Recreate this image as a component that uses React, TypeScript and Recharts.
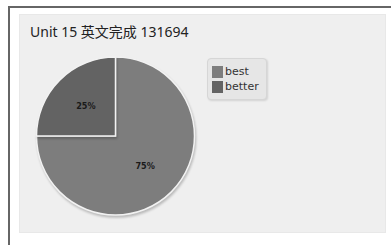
import { Cell, Pie, PieChart } from "recharts";

const categories = ["best", "better"];
const shares = [75, 25];
const sliceColors = ["#7d7d7d", "#636363"];
const chartTitle = "Unit 15 英文完成 131694";

const data = categories.map((name, i) => ({ name, value: shares[i] }));

const RAD = Math.PI / 180;

function SliceLabel(props: any) {
  const { cx, cy, midAngle, outerRadius, value } = props;
  const r = outerRadius * 0.53;
  const x = cx + r * Math.cos(-midAngle * RAD);
  const y = cy + r * Math.sin(-midAngle * RAD);
  return (
    <text
      x={x}
      y={y}
      textAnchor="middle"
      dominantBaseline="central"
      fontSize={9}
      fontWeight={700}
      fill="#1a1a1a"
      style={{ fontFamily: "'DejaVu Sans Condensed', 'DejaVu Sans', sans-serif" }}
    >
      {`${value}%`}
    </text>
  );
}

function LegendBox() {
  return (
    <div
      style={{
        position: "absolute",
        left: 207,
        top: 58,
        width: 60,
        height: 42,
        boxSizing: "border-box",
        background: "#e6e6e6",
        border: "1px solid #d6d6d6",
        borderRadius: 4,
        padding: "5px 0 0 4px",
        fontFamily: "'DejaVu Sans', sans-serif",
        fontSize: 11,
        color: "#333",
        lineHeight: "15px",
        boxShadow: "1px 1px 2px rgba(0,0,0,0.12)",
      }}
    >
      {categories.map((name, i) => (
        <div key={name} style={{ display: "flex", alignItems: "center" }}>
          <span
            style={{
              display: "inline-block",
              width: 11,
              height: 12,
              background: sliceColors[i],
              marginRight: 2,
            }}
          />
          {name}
        </div>
      ))}
    </div>
  );
}

export default function App() {
  return (
    <div
      style={{
        position: "absolute",
        left: 0,
        top: 0,
        width: 391,
        height: 245,
        background: "#fff",
        overflow: "hidden",
      }}
    >
      {/* outer frame */}
      <div
        style={{
          position: "absolute",
          left: 8,
          top: 6,
          width: 400,
          height: 260,
          borderLeft: "2px solid #666",
          borderTop: "2px solid #666",
        }}
      />
      {/* chart panel */}
      <div
        style={{
          position: "absolute",
          left: 19,
          top: 14,
          width: 367,
          height: 219,
          background: "#efefef",
          border: "1px solid #e8e8e8",
          boxSizing: "border-box",
        }}
      />
      <div
        style={{
          position: "absolute",
          left: 30,
          top: 23,
          fontFamily: "'Noto Sans', 'Noto Sans CJK SC', sans-serif",
          fontSize: 14,
          color: "#222",
          whiteSpace: "nowrap",
          lineHeight: "18px",
        }}
      >
        {chartTitle}
      </div>
      <div style={{ position: "absolute", left: 0, top: 0 }}>
        <PieChart width={391} height={245} margin={{ top: 0, right: 0, bottom: 0, left: 0 }}>
          <Pie
            data={data}
            dataKey="value"
            nameKey="name"
            cx={115.5}
            cy={136}
            outerRadius={79}
            startAngle={90}
            endAngle={-270}
            stroke="#f2f2f2"
            strokeWidth={1.5}
            label={SliceLabel}
            labelLine={false}
            isAnimationActive={false}
          >
            {data.map((d, i) => (
              <Cell
                key={d.name}
                fill={sliceColors[i]}
                style={{ filter: "drop-shadow(1px 2px 1px rgba(0,0,0,0.22))" }}
              />
            ))}
          </Pie>
        </PieChart>
      </div>
      <LegendBox />
    </div>
  );
}
